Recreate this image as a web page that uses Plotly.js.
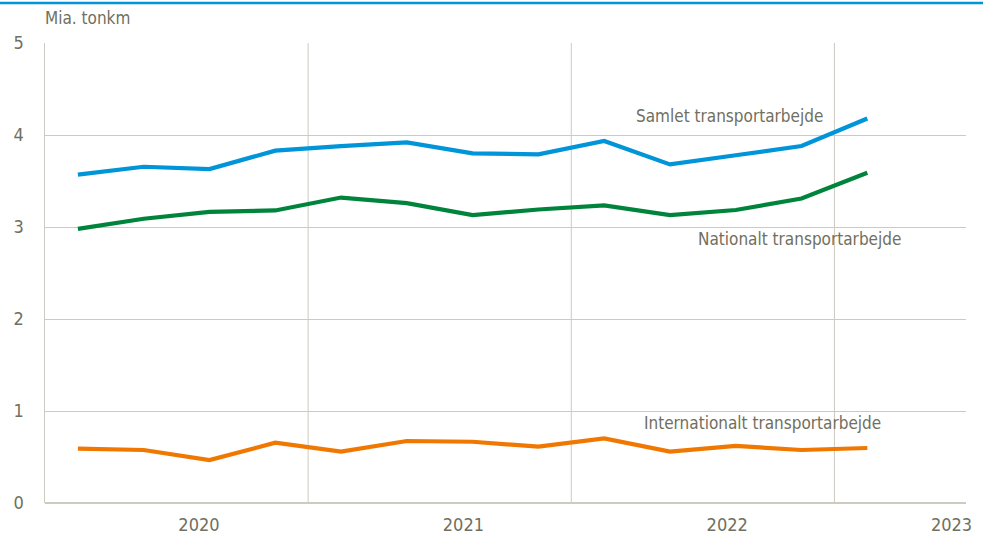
<!DOCTYPE html>
<html><head><meta charset="utf-8">
<script src="https://cdn.plot.ly/plotly-3.0.1.min.js"></script>
<style>html,body{margin:0;padding:0;background:#fff}#chart{width:983px;height:543px}</style>
</head><body><div id="chart"></div>
<script>
// Quarterly observations, 2020 Q1 .. 2023 Q1
const quarters = ['2020K1','2020K2','2020K3','2020K4','2021K1','2021K2','2021K3','2021K4','2022K1','2022K2','2022K3','2022K4','2023K1'];
const samlet = [3.57, 3.655, 3.63, 3.83, 3.88, 3.92, 3.80, 3.79, 3.935, 3.68, 3.78, 3.88, 4.18];
const nationalt = [2.98, 3.09, 3.165, 3.18, 3.32, 3.26, 3.13, 3.19, 3.235, 3.13, 3.185, 3.31, 3.59];
const internationalt = [0.59, 0.576, 0.467, 0.655, 0.558, 0.674, 0.666, 0.612, 0.703, 0.558, 0.62, 0.576, 0.598];
const yearLabels = ['2020', '2021', '2022', '2023'];
const seriesNames = ['Samlet transportarbejde', 'Nationalt transportarbejde', 'Internationalt transportarbejde'];
const yTitle = 'Mia. tonkm';

const idx = quarters.map((q, i) => i);
const colors = ['#0094d8', '#00843c', '#f07800'];
const txt = '#706f60';
const grid = '#cdcabf';
const fontFam = '"DejaVu Sans Condensed", "Liberation Sans Narrow", "Arial Narrow", sans-serif';

const traces = [samlet, nationalt, internationalt].map((v, k) => ({
  x: idx, y: v, type: 'scatter', mode: 'lines', name: seriesNames[k],
  line: {color: colors[k], width: 4.2}, hoverinfo: 'skip'
}));

const yearTickPos = [1.84, 5.86, 9.87, 13.28];
const yearBounds = [3.5, 7.5, 11.5];

const shapes = yearBounds.map(b => ({
  type: 'line', xref: 'x', yref: 'paper', x0: b, x1: b, y0: 0, y1: 1,
  line: {color: grid, width: 1}, layer: 'below'
}));
shapes.push({type: 'line', xref: 'paper', yref: 'paper', x0: -0.05, x1: 1.02, y0: 1.087, y1: 1.087,
  line: {color: '#0094d8', width: 2.5}});

const annotations = [
  {x: 9.9, y: 4.21, text: seriesNames[0]},
  {x: 10.97, y: 2.87, text: seriesNames[1]},
  {x: 10.4, y: 0.87, text: seriesNames[2]}
].map(a => Object.assign(a, {xref: 'x', yref: 'y', showarrow: false, xanchor: 'center', yanchor: 'middle',
  font: {family: fontFam, size: 17, color: txt}}));
annotations.push({xref: 'paper', yref: 'paper', x: -0.002, y: 1.055, xanchor: 'left', yanchor: 'middle', showarrow: false,
  text: yTitle, font: {family: fontFam, size: 17, color: txt}});

const layout = {
  width: 983, height: 543,
  margin: {l: 45, r: 17, t: 43, b: 40},
  paper_bgcolor: '#fff', plot_bgcolor: '#fff',
  showlegend: false,
  font: {family: fontFam, color: txt, size: 17},
  xaxis: {range: [-0.5, 13.5], tickmode: 'array', tickvals: yearTickPos, ticktext: yearLabels,
    showgrid: false, zeroline: false, showline: false, ticks: '', ticklabelstandoff: 9,
    tickfont: {family: fontFam, size: 18, color: txt}, fixedrange: true},
  yaxis: {range: [0, 5], tickvals: [0, 1, 2, 3, 4, 5], showgrid: true, gridcolor: grid, gridwidth: 1,
    zeroline: true, zerolinecolor: grid, zerolinewidth: 1.5,
    showline: true, linecolor: grid, linewidth: 1.5, ticks: '', ticklabelstandoff: 16,
    tickfont: {family: fontFam, size: 18, color: txt}, fixedrange: true},
  shapes: shapes,
  annotations: annotations
};

Plotly.newPlot('chart', traces, layout, {displayModeBar: false, staticPlot: true});
</script></body></html>
